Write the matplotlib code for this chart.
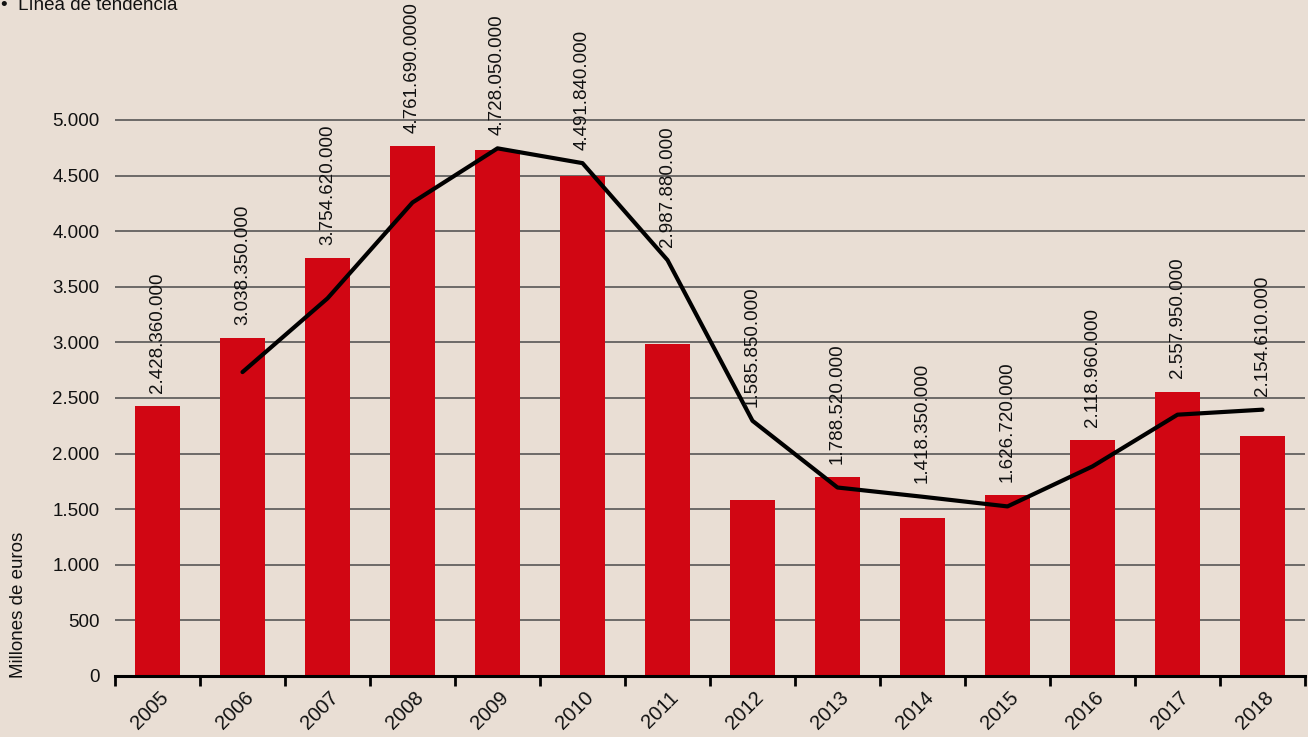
import matplotlib.pyplot as plt
import numpy as np

plt.rcParams['font.family'] = ['Liberation Sans', 'DejaVu Sans']

years = ['2005', '2006', '2007', '2008', '2009', '2010', '2011',
         '2012', '2013', '2014', '2015', '2016', '2017', '2018']
valores = [2428.36, 3038.35, 3754.62, 4761.69, 4728.05, 4491.84, 2987.88,
           1585.85, 1788.52, 1418.35, 1626.72, 2118.96, 2557.95, 2154.61]
etiquetas = ['2.428.360.000', '3.038.350.000', '3.754.620.000', '4.761.690.0000',
             '4.728.050.000', '4.491.840.000', '2.987.880.000', '1.585.850.000',
             '1.788.520.000', '1.418.350.000', '1.626.720.000', '2.118.960.000',
             '2.557.950.000', '2.154.610.000']
# linea de tendencia (desde 2006)
tendencia = [2733, 3396, 4258, 4745, 4612, 3740, 2295,
             1695, 1612, 1525, 1885, 2350, 2395]
yticks = [0, 500, 1000, 1500, 2000, 2500, 3000, 3500, 4000, 4500, 5000]
ytick_labels = ['0', '500', '1.000', '1.500', '2.000', '2.500', '3.000',
                '3.500', '4.000', '4.500', '5.000']

bg = '#E9DED4'
rojo = '#D10613'

fig = plt.figure(figsize=(13.08, 7.37), dpi=100, facecolor=bg)
ax = fig.add_axes([115/1308, 1 - 676/737, 1190/1308, 676/737])
ax.set_facecolor(bg)

x = np.arange(len(years))
ax.set_xlim(-0.5, len(years) - 0.5)
ax.set_ylim(0, 6079)

for yv in yticks[1:]:
    ax.axhline(yv, color='#4a4a4a', lw=1.1, zorder=1)

ax.bar(x, valores, width=0.54, color=rojo, zorder=2)
xt = x[1:]
ax.plot(xt, tendencia, color='black', lw=3, zorder=3, solid_capstyle='round')

trend_full = [0] + tendencia
for i, lab in enumerate(etiquetas):
    yl = max(valores[i], trend_full[i]) + 120
    ax.text(x[i], yl, lab, rotation=90, ha='center', va='bottom',
            fontsize=13.5, color='#111111', zorder=4)

for s in ['left', 'right', 'top']:
    ax.spines[s].set_visible(False)
ax.spines['bottom'].set_linewidth(2.2)
ax.spines['bottom'].set_zorder(5)

ax.set_yticks(yticks)
ax.set_yticklabels(ytick_labels, fontsize=13.5, color='#111111')
ax.tick_params(axis='y', length=0, pad=11)

ax.set_xticks(np.arange(-0.5, len(years), 1.0))
ax.set_xticklabels([])
ax.tick_params(axis='x', length=7, width=2, direction='out', color='black')
for i, yr in enumerate(years):
    ax.text(x[i] + 0.02, -110, yr, rotation=45, ha='right', va='top',
            fontsize=14.5, color='#111111', rotation_mode='anchor')

fig.text(19/1308, 1 - 605/737, 'Millones de euros', rotation=90,
         ha='center', va='center', fontsize=13.5, color='#111111')
fig.text(1/1308, 1 - 6/737, '\u2022  L\u00ednea de tendencia', ha='left',
         va='center', fontsize=13.5, color='#111111')

fig.savefig('out.png', dpi=100, facecolor=bg)
